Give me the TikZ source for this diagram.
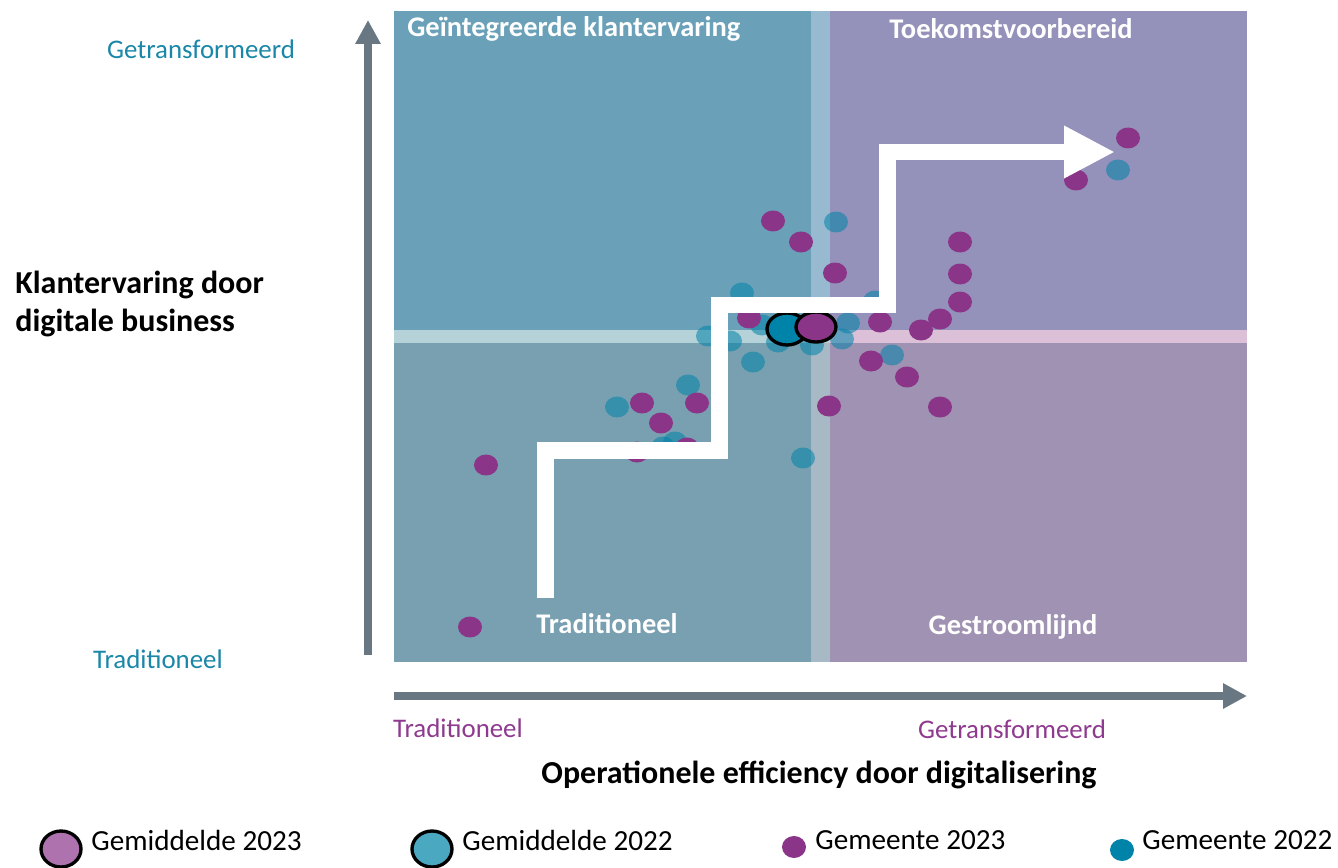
\documentclass[tikz,border=0pt]{standalone}
\usepackage{fontspec}
\setmainfont{Carlito}
\usetikzlibrary{arrows.meta,positioning}

\definecolor{qtl}{HTML}{6AA1B8}
\definecolor{qtr}{HTML}{9492BA}
\definecolor{qbl}{HTML}{78A0B1}
\definecolor{qbr}{HTML}{A092B2}
\definecolor{vbandup}{HTML}{98BAD0}
\definecolor{vbandlo}{HTML}{A8B9C6}
\definecolor{hbandl}{HTML}{B4D2D8}
\definecolor{hbandr}{HTML}{DBC0D8}
\definecolor{axgray}{HTML}{687782}
\definecolor{gemteal}{HTML}{0083A9}
\definecolor{gemmag}{HTML}{8A3587}
\definecolor{avgmag}{HTML}{AE72AE}
\definecolor{avgteal}{HTML}{4BA8C1}
\definecolor{txtteal}{HTML}{1A87A8}
\definecolor{txtmag}{HTML}{8E3A8F}

\tikzset{
  qlabel/.style={text=white, inner sep=0pt, font=\bfseries\fontsize{16.2}{19}\selectfont},
  axlabel/.style={inner sep=0pt, font=\fontsize{15.3}{18}\selectfont},
  axtitle/.style={inner sep=0pt, align=left, font=\bfseries\fontsize{18.2}{22}\selectfont},
  legtext/.style={inner sep=0pt, anchor=west, font=\fontsize{16.6}{19}\selectfont},
  dot23/.style={fill=gemmag},
  dot22/.style={fill=gemteal, fill opacity=.55},
  avgline/.style={draw=black, line width=1.9pt},
  axarrow/.style={draw=axgray, line width=4.5pt, -{Triangle[length=.48cm,width=.48cm]}},
  stairs/.style={draw=white, line width=.34cm, line join=miter,
    -{Triangle[length=1.02cm,width=.98cm]}}
}

\begin{document}
\begin{tikzpicture}[x=0.02cm, y=-0.02cm]
\useasboundingbox (0,0) rectangle (1338,868);
\def\xl{394}
\def\xm{811}
\def\xn{830}
\def\xr{1247}
\def\yt{11}
\def\ym{330}
\def\yn{343}
\def\yb{662}

%% quadrants and bands
\fill[qtl] (\xl,\yt) rectangle (\xm,\ym);
\fill[qtr] (\xn,\yt) rectangle (\xr,\ym);
\fill[qbl] (\xl,\yn) rectangle (\xm,\yb);
\fill[qbr] (\xn,\yn) rectangle (\xr,\yb);
\fill[vbandup] (\xm,\yt) rectangle (\xn,\ym);
\fill[vbandlo] (\xm,\yn) rectangle (\xn,\yb);
\fill[hbandl] (\xl,\ym) rectangle (\xn,\yn);
\fill[hbandr] (\xn,\ym) rectangle (\xr,\yn);

%% gemeenten 2022 and 2023
\foreach \x/\y in {836/222, 742/293, 708/336, 730/341, 1118/170, 875/301,
  848/323, 842/339, 812/345, 892/355, 803/458, 753/362, 688/385, 617/407,
  675/442, 663/447, 778/342, 762/325}
  \fill[dot22] (\x,\y) ellipse [x radius=12, y radius=10.5];
\foreach \x/\y in {773/221, 801/242, 835/273, 749/318, 1128/138, 1076/180,
  960/242, 960/274, 960/302, 940/319, 921/330, 880/322, 871/361, 907/377,
  829/406, 940/407, 642/403, 697/403, 661/423, 637/452, 687/448, 486/465, 470/627}
  \fill[dot23] (\x,\y) ellipse [x radius=12, y radius=10.5];

%% gemiddelden
\filldraw[avgline, fill=gemteal] (787,329) ellipse [x radius=20, y radius=16];
\filldraw[avgline, fill=gemmag] (816,327) ellipse [x radius=20, y radius=15];

%% route
\coordinate (s0) at (545.5,598);
\coordinate (s1) at (719.5,450.5);
\coordinate (s2) at (887,305);
\coordinate (s3) at (1115,152);
\draw[stairs] (s0) |- (s1) |- (s2) |- (s3);

%% axes
\draw[axarrow] (368,655) -- (368,20);
\draw[axarrow] (394,696) -- (1247,696);

%% labels
\node[qlabel, anchor=west] (qtitle1) at (407,29) {Geïntegreerde klantervaring};
\node[qlabel] (qtitle2) at (1011,29) {Toekomstvoorbereid};
\node[qlabel] (qtitle3) at (607,624) {Traditioneel};
\node[qlabel] (qtitle4) at (1013,627) {Gestroomlijnd};

\node[axlabel, text=txtteal] (ytop) at (201,49) {Getransformeerd};
\node[axlabel, text=txtteal] (ybot) at (158,659) {Traditioneel};
\node[axtitle, anchor=west] (ytitle) at (15,304) {Klantervaring door\\digitale business};
\node[axlabel, text=txtmag] (xleft) at (458,728) {Traditioneel};
\node[axlabel, text=txtmag] (xright) at (1012,729) {Getransformeerd};
\node[axtitle] (xtitle) at (819,775) {Operationele efficiency door digitalisering};

%% legend
\filldraw[avgline, fill=avgmag] (61,849) ellipse [x radius=20, y radius=18];
\filldraw[avgline, fill=avgteal] (432,849) ellipse [x radius=20, y radius=18];
\fill[gemmag] (794,847) ellipse [x radius=12, y radius=11];
\fill[gemteal] (1122,850) ellipse [x radius=12, y radius=11];
\node[legtext] (leg1) at (91,840) {Gemiddelde 2023};
\node[legtext] (leg2) at (462,840) {Gemiddelde 2022};
\node[legtext] (leg3) at (815,840) {Gemeente 2023};
\node[legtext] (leg4) at (1142,840) {Gemeente 2022};
\end{tikzpicture}
\end{document}
